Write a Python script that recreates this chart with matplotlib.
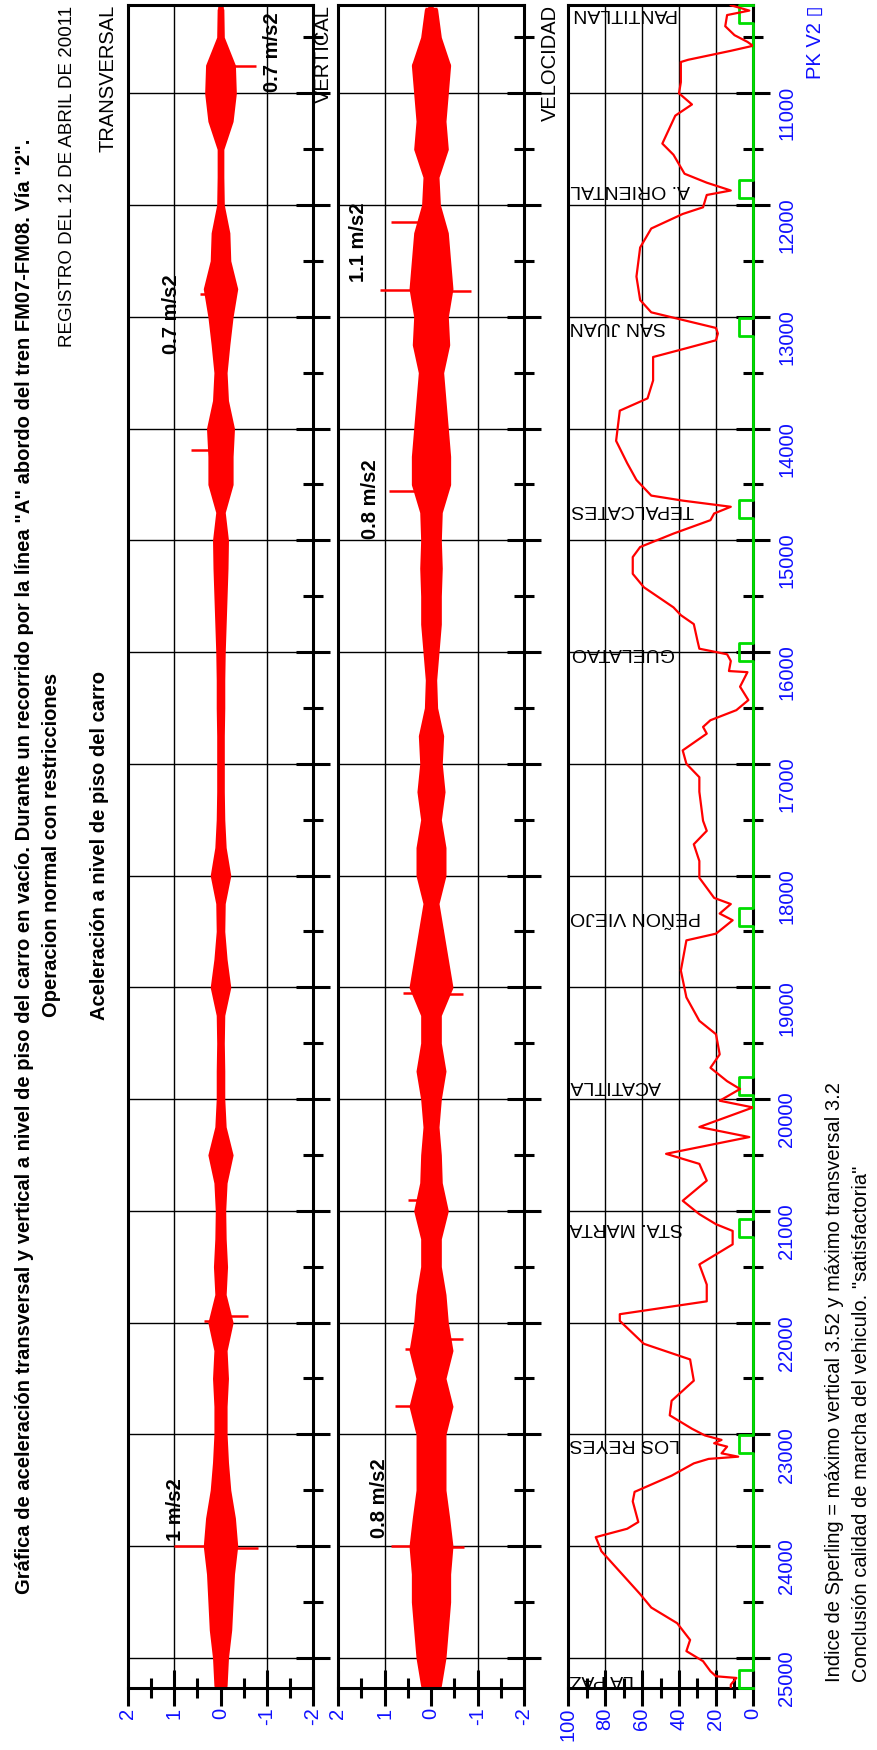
import numpy as np
import matplotlib
matplotlib.use("Agg")
import matplotlib.pyplot as plt
from matplotlib.ticker import MultipleLocator

plt.rcParams["font.family"] = ["Liberation Sans", "DejaVu Sans"]
plt.rcParams["axes.unicode_minus"] = False

# track position (PK) window shown on every panel
PK_TOP, PK_BOTTOM = 10210, 25270

# acceleration envelope, read every 250 m of track [m/s2]
accel_pk = np.arange(10250, 25251, 250)
trans_amp = [0.05, 0.06, 0.30, 0.32, 0.25, 0.05, 0.05, 0.06, 0.18, 0.20,
             0.35, 0.25, 0.18, 0.12, 0.15, 0.28, 0.25, 0.25, 0.08, 0.15,
             0.14, 0.12, 0.10, 0.08, 0.07, 0.07, 0.06, 0.06, 0.06, 0.07,
             0.10, 0.20, 0.08, 0.07, 0.12, 0.20, 0.07, 0.06, 0.07, 0.07,
             0.10, 0.25, 0.12, 0.09, 0.10, 0.13, 0.10, 0.25, 0.12, 0.15,
             0.12, 0.12, 0.15, 0.20, 0.30, 0.35, 0.28, 0.25, 0.22, 0.15,
             0.12]
vert_amp = [0.12, 0.20, 0.40, 0.35, 0.30, 0.35, 0.15, 0.18, 0.35, 0.40,
            0.45, 0.35, 0.38, 0.25, 0.30, 0.35, 0.40, 0.40, 0.22, 0.20,
            0.22, 0.20, 0.20, 0.15, 0.10, 0.12, 0.25, 0.22, 0.28, 0.20,
            0.30, 0.30, 0.15, 0.25, 0.35, 0.45, 0.20, 0.20, 0.30, 0.20,
            0.15, 0.20, 0.22, 0.35, 0.20, 0.20, 0.30, 0.35, 0.45, 0.30,
            0.45, 0.30, 0.30, 0.30, 0.38, 0.45, 0.40, 0.40, 0.35, 0.30,
            0.20]

# isolated peaks standing out of the envelope
trans_spike_pk = [10760, 12800, 14190, 21940, 21990, 24000, 24020]
trans_spike_val = [-0.76, 0.45, 0.64, -0.60, 0.36, 1.00, -0.80]
vert_spike_pk = [12150, 12760, 12770, 14560, 19050, 19060, 20900, 22150,
                 22240, 22750, 24000, 24010]
vert_spike_val = [0.87, 1.10, -0.86, 0.90, 0.60, -0.68, 0.50, -0.68,
                  0.55, 0.77, 0.85, -0.70]

# train speed along the line [km/h]
vel_pk = [10212, 10260, 10300, 10400, 10480, 10540, 10575, 10620, 10700, 10720,
          10900, 11000, 11100, 11200, 11450, 11550, 11720, 11800, 11870, 11910,
          12020, 12080, 12210, 12380, 12640, 12850, 12960, 13000, 13100, 13150,
          13210, 13290, 13360, 13570, 13730, 13840, 14110, 14310, 14460, 14600,
          14645, 14700, 14760, 14820, 14940, 15060, 15150, 15300, 15420, 15600,
          15670, 15750, 15900, 15970, 16020, 16080, 16170, 16180, 16310, 16430,
          16520, 16610, 16670, 16730, 16880, 17000, 17120, 17250, 17510, 17600,
          17720, 17870, 18020, 18200, 18255, 18340, 18400, 18520, 18580, 18760,
          18850, 19090, 19300, 19420, 19600, 19720, 19840, 19910, 20015, 20075,
          20250, 20340, 20490, 20580, 20730, 20910, 21030, 21120, 21180, 21300,
          21480, 21660, 21810, 21925, 21985, 22190, 22330, 22520, 22700, 22830,
          22950, 23010, 23050, 23080, 23110, 23170, 23200, 23220, 23260, 23370,
          23515, 23600, 23785, 23845, 23920, 24000, 24045, 24430, 24550, 24690,
          24840, 24940, 25030, 25120, 25165, 25180, 25240, 25265]
vel_kmh = [12, 2, 14, 15, 10, 3, 0, 12, 35, 39,
           39, 40, 33, 42, 49, 43, 37, 25, 12, 25,
           27, 38, 55, 61, 63, 61, 55, 45, 20, 19,
           20, 38, 54, 54, 57, 72, 74, 68, 63, 55,
           38, 12, 21, 23, 43, 61, 65, 65, 59, 43,
           39, 32, 30, 29, 14, 12, 13, 3, 7, 2.5,
           9, 23, 27, 25, 38, 36, 29, 29, 27, 25,
           32, 29, 29, 21, 12, 18, 11, 20, 36, 38,
           39, 36, 29, 20, 18, 23, 14, 7, 18, 0,
           29, 2, 47, 29, 25, 38, 29, 20, 11, 11,
           29, 25, 25, 72, 72, 59, 34, 32, 44, 45,
           33, 26, 17, 21, 14, 17, 8, 24, 32, 44,
           64, 65, 62, 68, 85, 83, 82, 61, 55, 41,
           34, 36, 27, 23, 20, 9, 12, 12]

# stations (platform centre PK)
station_names = ["PANTITLAN", "A. ORIENTAL", "SAN JUAN", "TEPALCATES", "GUELATAO",
                 "PEÑON VIEJO", "ACATITLA", "STA. MARTA", "LOS REYES", "LA PAZ"]
station_pk = [10290, 11860, 13090, 14720, 16000, 18370, 19880, 21150, 23085, 25190]
PLATFORM_HALF = 80
PLATFORM_MARK = 7.5

W, H = 878, 1750
FS = 14.5
BLUE = "#1010ff"
fig = plt.figure(figsize=(W / 100, H / 100), dpi=100)


def px_box(x0, x1, y0, y1):
    return [x0 / W, 1 - y1 / H, (x1 - x0) / W, (y1 - y0) / H]


def fig_text(x, y, s, size=FS, **kw):
    fig.text(x / W, 1 - y / H, s, rotation=90, fontsize=size, **kw)


def style(ax, xlim, xmajor, xminor, pk_labels=False):
    ax.set_xlim(*xlim)
    ax.set_ylim(PK_BOTTOM, PK_TOP)
    for sp in ax.spines.values():
        sp.set_linewidth(2.2)
    ax.xaxis.set_major_locator(MultipleLocator(xmajor))
    ax.xaxis.set_minor_locator(MultipleLocator(xminor))
    ax.yaxis.set_major_locator(MultipleLocator(1000))
    ax.yaxis.set_minor_locator(MultipleLocator(500))
    ax.tick_params(axis="x", which="major", direction="inout", length=26, width=2.2,
                   labelsize=FS, labelcolor=BLUE, labelrotation=90, pad=1)
    ax.tick_params(axis="x", which="minor", direction="inout", length=14, width=2.2)
    ax.tick_params(axis="y", which="both", direction="inout", width=2.2,
                   left=False, right=True, labelleft=False, labelright=pk_labels)
    ax.tick_params(axis="y", which="major", length=25, labelsize=FS,
                   labelcolor=BLUE, labelrotation=90, pad=5)
    ax.tick_params(axis="y", which="minor", length=14)
    ax.grid(True, which="major", color="black", lw=1.0)
    ax.set_axisbelow(True)


ax1 = fig.add_axes(px_box(128, 313, 5, 1688))
ax2 = fig.add_axes(px_box(338, 524, 5, 1688))
ax3 = fig.add_axes(px_box(568, 753, 5, 1688))

style(ax1, (2, -2), 1, 0.5)
style(ax2, (2, -2), 1, 0.5)
style(ax3, (100, 0), 20, 10, pk_labels=True)

# acceleration traces: envelope band, readings as strokes, isolated peaks
for ax, amp, spk, sval in [(ax1, trans_amp, trans_spike_pk, trans_spike_val),
                           (ax2, vert_amp, vert_spike_pk, vert_spike_val)]:
    amp = np.asarray(amp)
    ax.fill_betweenx(accel_pk, -amp, amp, color="red", lw=1.5)
    ax.hlines(accel_pk, -amp, amp, color="red", lw=2.5)
    ax.plot([0, 0], [PK_TOP, PK_BOTTOM], color="red", lw=4)
    ax.hlines(spk, 0, sval, color="red", lw=1.8)

ax1.text(-1.12, 10630, "0.7 m/s2", rotation=90, ha="center", va="center",
         fontsize=FS, fontweight="bold")
ax1.text(1.07, 12980, "0.7 m/s2", rotation=90, ha="center", va="center",
         fontsize=FS, fontweight="bold")
ax1.text(0.98, 23670, "1 m/s2", rotation=90, ha="center", va="center",
         fontsize=FS, fontweight="bold")
ax2.text(1.55, 12330, "1.1 m/s2", rotation=90, ha="center", va="center",
         fontsize=FS, fontweight="bold")
ax2.text(1.31, 14630, "0.8 m/s2", rotation=90, ha="center", va="center",
         fontsize=FS, fontweight="bold")
ax2.text(1.1, 23570, "0.8 m/s2", rotation=90, ha="center", va="center",
         fontsize=FS, fontweight="bold")

# station platforms drawn as a step on the zero line
gx, gy = [0], [PK_TOP]
for pk in station_pk:
    a, b = max(pk - PLATFORM_HALF, PK_TOP), min(pk + PLATFORM_HALF, PK_BOTTOM)
    gx += [0, PLATFORM_MARK, PLATFORM_MARK, 0]
    gy += [a, a, b, b]
gx.append(0)
gy.append(PK_BOTTOM)
ax3.plot(gx, gy, color="#00dd00", lw=2, clip_on=False, zorder=4)
ax3.plot(vel_kmh, vel_pk, color="red", lw=1.6, zorder=5)
for name, pk in zip(station_names, station_pk):
    ax3.text(99, pk, name, rotation=180, ha="left", va="center", fontsize=14)

# headings and notes
fig_text(25, 866, 'Gráfica de aceleración transversal y vertical a nivel de piso del carro '
         'en vacío. Durante un recorrido por la línea "A" abordo del tren FM07-FM08. Vía "2".',
         ha="center", va="center", fontweight="bold")
fig_text(52, 845, "Operacion normal con restricciones", ha="center", va="center",
         fontweight="bold")
fig_text(68, 6, "REGISTRO DEL 12 DE ABRIL DE 20011", size=13.5, ha="center", va="top")
fig_text(100, 845, "Aceleración a nivel de piso del carro", ha="center", va="center",
         fontweight="bold")
fig_text(108, 5, "TRANSVERSAL", ha="center", va="top")
fig_text(323, 5, "VERTICAL", ha="center", va="top")
fig_text(550, 5, "VELOCIDAD", ha="center", va="top")
fig_text(815, 5, "PK V2 \u25af", ha="center", va="top", color=BLUE,
         family=["Liberation Sans", "DejaVu Sans"])
fig_text(835, 1682, "Indice de Sperling = máximo vertical 3.52 y máximo transversal 3.2",
         ha="center", va="bottom")
fig_text(862, 1682, 'Conclusión calidad de marcha del vehiculo. "satisfactoria"',
         ha="center", va="bottom")

fig.savefig("out.png", dpi=100)
